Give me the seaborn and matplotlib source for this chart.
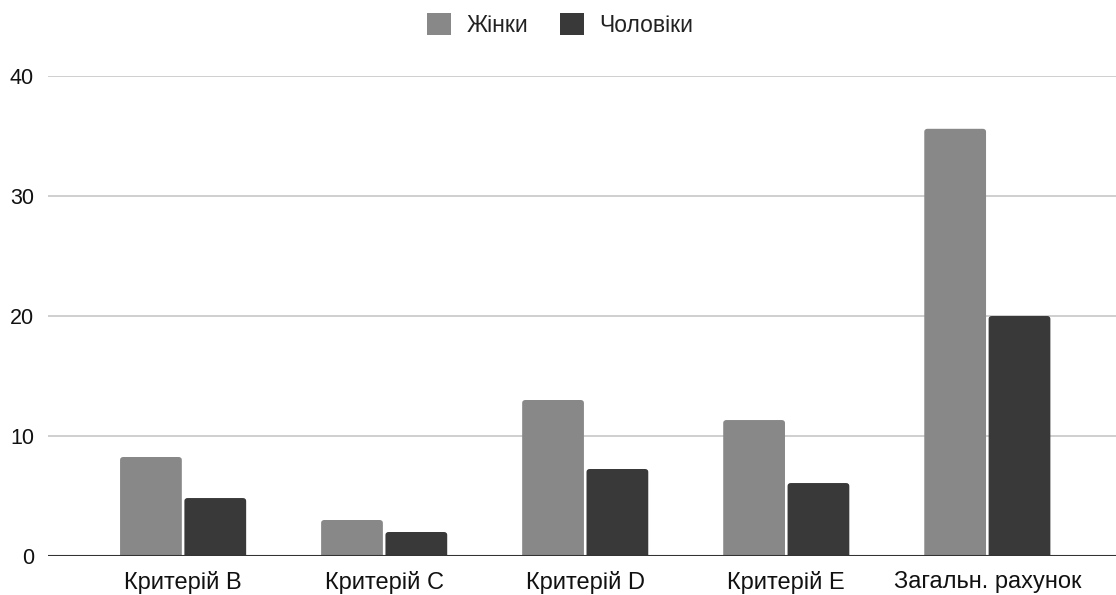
import matplotlib
matplotlib.use("Agg")
import matplotlib.pyplot as plt
from matplotlib.patches import FancyBboxPatch, Patch
import seaborn as sns
import pandas as pd

categories = ["Критерій B", "Критерій C", "Критерій D", "Критерій E", "Загальн. рахунок"]
women = [8.25, 3.0, 13.0, 11.33, 35.6]
men = [4.83, 2.0, 7.25, 6.08, 20.0]
series_names = ["Жінки", "Чоловіки"]
colors = ["#888888", "#393939"]
y_ticks = [0, 10, 20, 30, 40]

df = pd.DataFrame({
    "category": categories * 2,
    "value": women + men,
    "series": [series_names[0]] * len(categories) + [series_names[1]] * len(categories),
})

sns.set_theme(style="white")
plt.rcParams["font.family"] = ["Liberation Sans", "DejaVu Sans"]

fig = plt.figure(figsize=(11.16, 5.95), dpi=100)
ax = fig.add_axes([48 / 1116, 1 - 556 / 595, (1116 - 48) / 1116, (556 - 76) / 595])

sns.barplot(data=df, x="category", y="value", hue="series", order=categories,
            hue_order=series_names, palette=colors, width=0.64, gap=0.04,
            saturation=1, ax=ax, legend=False)

ax.set_ylim(0, 40)
ax.set_xlim(-0.672, 4.64)

# Replace square bars with slightly rounded ones
rx, ry = 0.016, 0.26
for p in list(ax.patches):
    x0, y0 = p.get_x(), p.get_y()
    w, h = p.get_width(), p.get_height()
    fc = p.get_facecolor()
    p.remove()
    rb = FancyBboxPatch((x0, y0 - ry * 2), w, h + ry * 2,
                        boxstyle=f"round,pad=0,rounding_size={rx}",
                        mutation_aspect=ry / rx, facecolor=fc, edgecolor="none",
                        zorder=2)
    ax.add_patch(rb)

ax.set_yticks(y_ticks)
ax.set_yticklabels([str(t) for t in y_ticks])
ax.yaxis.grid(True, color="#cccccc", linewidth=1.3)
ax.set_axisbelow(True)
ax.axhline(0, color="#333333", linewidth=1.5, zorder=3)
for s in ax.spines.values():
    s.set_visible(False)
ax.tick_params(axis="both", length=0, colors="#111111")
ax.tick_params(axis="y", pad=10, labelsize=15.5)
ax.tick_params(axis="x", pad=11, labelsize=17)
ax.set_xlabel("")
ax.set_ylabel("")

# Legend across the top
handles = [Patch(facecolor=c, edgecolor="none", label=n) for c, n in zip(colors, series_names)]
fig.legend(handles=handles, loc="center", bbox_to_anchor=(0.502, 0.958), ncol=2,
           frameon=False, fontsize=16.5, handlelength=1.05, handleheight=1.05,
           handletextpad=0.65, columnspacing=1.4, labelcolor="#222222")

fig.savefig("out.png", dpi=100, facecolor="white")
